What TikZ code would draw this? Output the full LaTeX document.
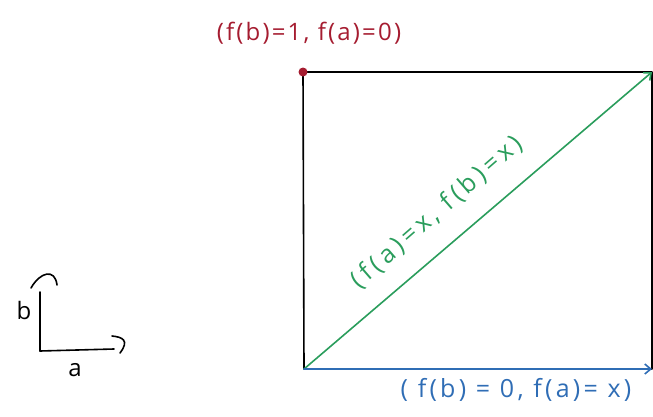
\documentclass[tikz,border=0pt]{standalone}
\usepackage{fontspec}
\setmainfont{Open Sans}
\usetikzlibrary{arrows.meta}
\definecolor{hred}{HTML}{A51C30}
\definecolor{hgreen}{HTML}{2A9D5C}
\definecolor{hblue}{HTML}{2F6DB5}
\begin{document}
\begin{tikzpicture}[x=1pt,y=-1pt,
  ink/.style={line width=1.6pt,line cap=round,line join=round},
  lbl/.style={inner sep=0pt},
  arr/.style={ink,-{Straight Barb[length=6pt,width=10pt]}}]
\useasboundingbox (0,0) rectangle (653,416);
% square corners
\coordinate (tl) at (303,72);
\coordinate (tr) at (652,72);
\coordinate (bl) at (304,369);
\coordinate (br) at (652,369);
\draw[ink,black] (tl) -- (tr) -- (br) -- (bl) -- cycle;
\fill[hred] (tl) circle (4.5);
% arrows
\draw[arr,hgreen] (bl) -- (tr);
\draw[arr,hblue] (bl) -- (br);
% labels
\node[lbl,text=hred,font={\fontsize{24}{28}\selectfont\addfontfeature{LetterSpace=9}}] (ltop) at (309,33) {(f(b)=1, f(a)=0)};
\node[lbl,text=hblue,font={\fontsize{25}{28}\selectfont\addfontfeature{LetterSpace=13}}] (lbot) at (516,390) {( f(b) = 0, f(a)= x)};
\node[lbl,text=hgreen,rotate=41,font={\fontsize{25}{28}\selectfont\addfontfeature{LetterSpace=17}}] (ldiag) at (437,212) {(f(a)=x, f(b)=x)};
% axes
\coordinate (o) at (40,351);
\coordinate (ay) at (40,292);
\coordinate (ax) at (114,349);
\draw[ink,black] (o) -- (ay);
\draw[ink,black] (o) -- (ax);
\draw[ink,black] (31,288) .. controls (40,272) and (55,268) .. (57,285);
\draw[ink,black] (112,336) .. controls (122,337) and (130,340) .. (120,353);
\node[lbl,text=black,font={\fontsize{24}{28}\selectfont}] (lb) at (24,310) {b};
\node[lbl,text=black,font={\fontsize{24}{28}\selectfont}] (la) at (75,370) {a};
\end{tikzpicture}
\end{document}
